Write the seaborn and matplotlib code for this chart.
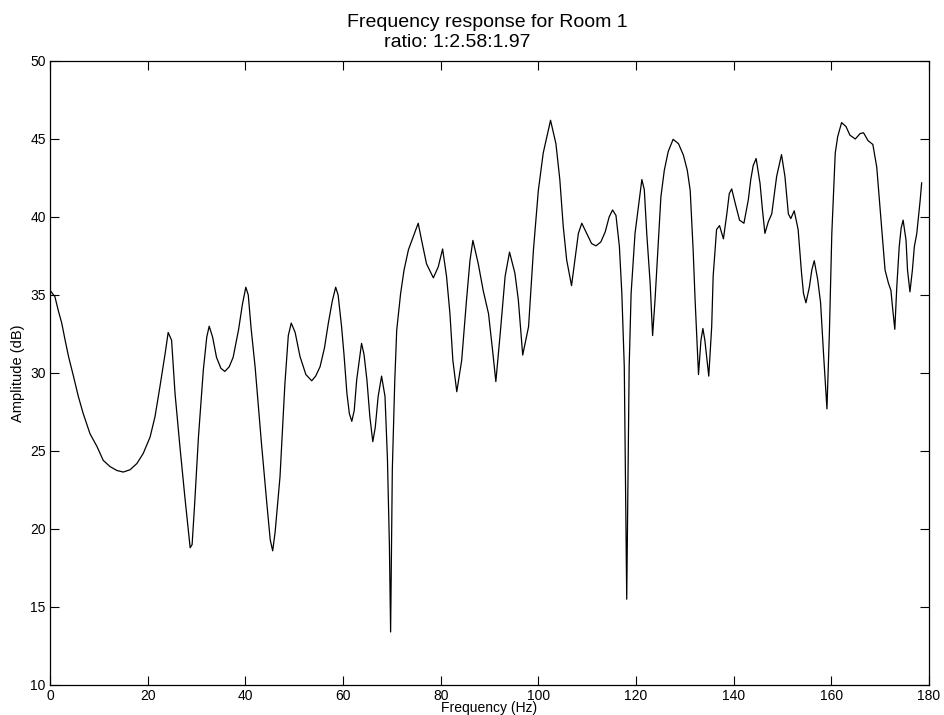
"""
Frequency response of Room 1, redrawn from a MATLAB-style line plot.
"""
import matplotlib

matplotlib.use("Agg")
import matplotlib.pyplot as plt
import pandas as pd
import seaborn as sns

# values
freq_hz = [
    0.0, 1.0, 1.7, 2.4, 3.1, 3.8, 4.8, 5.8, 6.8, 8.2, 9.6, 10.9, 12.3, 13.7,
    15.0, 16.4, 17.8, 19.1, 20.5, 21.5, 22.5, 23.6, 24.2, 24.9, 25.6, 26.6,
    27.6, 28.3, 28.7, 29.1, 29.6, 30.4, 31.4, 32.1, 32.6, 33.3, 34.1, 35.0,
    35.8, 36.7, 37.5, 38.6, 39.4, 40.1, 40.6, 41.2, 42.0, 43.3, 44.4, 45.1,
    45.6, 46.1, 47.1, 48.1, 48.8, 49.4, 50.2, 51.2, 52.4, 53.6, 54.4, 55.3,
    56.2, 57.0, 57.8, 58.5, 59.0, 59.7, 60.2, 60.8, 61.3, 61.8, 62.3, 62.8,
    63.8, 64.3, 64.9, 65.5, 66.1, 66.6, 67.2, 67.9, 68.6, 69.1, 69.5, 69.75,
    70.1, 70.6, 71.0, 71.8, 72.5, 73.4, 74.4, 75.4, 76.1, 77.1, 78.5, 79.5,
    80.4, 81.2, 81.9, 82.5, 83.3, 84.3, 85.3, 86.0, 86.6, 87.7, 88.7, 89.8,
    90.7, 91.3, 92.2, 93.2, 94.1, 95.2, 95.9, 96.8, 98.0, 99.0, 100.0, 101.0,
    102.5, 103.6, 104.4, 105.1, 105.8, 106.8, 107.5, 108.2, 108.9, 109.9,
    110.9, 111.8, 112.8, 113.7, 114.5, 115.2, 115.9, 116.6, 117.1, 117.6,
    118.1, 118.6, 119.0, 119.5, 119.8, 120.5, 121.2, 121.7, 122.2, 122.9,
    123.4, 123.9, 124.6, 125.1, 125.8, 126.6, 127.6, 128.7, 129.7, 130.5,
    131.1, 131.7, 132.1, 132.8, 133.3, 133.7, 134.1, 134.9, 135.5, 135.8,
    136.5, 137.1, 137.9, 138.6, 139.1, 139.6, 140.3, 141.2, 142.1, 143.0,
    143.5, 144.0, 144.6, 145.4, 145.9, 146.4, 147.1, 147.8, 148.8, 149.8,
    150.5, 151.2, 151.7, 152.4, 153.2, 153.9, 154.3, 154.8, 155.5, 156.0,
    156.5, 157.2, 157.8, 158.4, 159.1, 159.6, 160.1, 160.8, 161.3, 162.1,
    163.0, 163.8, 164.9, 165.9, 166.6, 167.5, 168.5, 169.3, 170.0, 170.6,
    171.0, 171.7, 172.2, 172.6, 173.0, 173.4, 173.9, 174.3, 174.7, 175.3,
    175.6, 176.1, 176.6, 177.0, 177.5, 177.9, 178.2, 178.5,
]
amplitude_db = [
    35.3, 34.9, 34.0, 33.2, 32.1, 31.05, 29.8, 28.5, 27.4, 26.1, 25.3, 24.4,
    24.0, 23.75, 23.65, 23.8, 24.2, 24.85, 25.9, 27.2, 29.1, 31.3, 32.6, 32.1,
    28.7, 25.3, 22.1, 20.0, 18.8, 19.0, 21.5, 25.9, 30.2, 32.3, 33.0, 32.3,
    31.0, 30.3, 30.1, 30.4, 31.0, 32.75, 34.4, 35.5, 35.0, 32.8, 30.4, 25.5,
    21.65, 19.3, 18.6, 19.8, 23.35, 29.3, 32.4, 33.2, 32.6, 31.05, 29.9, 29.5,
    29.8, 30.4, 31.6, 33.2, 34.6, 35.5, 35.0, 33.0, 31.2, 28.7, 27.4, 26.9,
    27.6, 29.55, 31.9, 31.2, 29.55, 27.2, 25.6, 26.5, 28.5, 29.8, 28.5, 24.5,
    19.0, 13.4, 23.8, 29.5, 32.75, 35.1, 36.6, 37.9, 38.75, 39.6, 38.5, 37.0,
    36.1, 36.8, 37.95, 36.2, 33.8, 30.8, 28.8, 30.8, 34.7, 37.2, 38.5, 37.0,
    35.3, 33.8, 31.25, 29.45, 32.55, 36.2, 37.75, 36.4, 34.7, 31.15, 32.97,
    37.9, 41.7, 44.1, 46.2, 44.7, 42.4, 39.4, 37.25, 35.6, 37.25, 38.95, 39.6,
    38.95, 38.3, 38.15, 38.4, 39.05, 40.0, 40.45, 40.1, 38.1, 35.1, 30.4,
    15.5, 30.4, 35.1, 37.45, 38.95, 40.65, 42.4, 41.75, 38.95, 35.75, 32.4,
    34.7, 38.5, 41.3, 43.0, 44.2, 44.98, 44.7, 43.97, 43.0, 41.7, 37.9, 34.7,
    29.9, 32.1, 32.85, 32.1, 29.8, 32.97, 36.2, 39.2, 39.45, 38.6, 40.2, 41.5,
    41.8, 40.9, 39.8, 39.6, 41.1, 42.4, 43.3, 43.75, 42.15, 40.45, 38.95,
    39.7, 40.2, 42.6, 44.0, 42.6, 40.2, 39.9, 40.4, 39.2, 36.4, 35.1, 34.5,
    35.5, 36.6, 37.2, 36.0, 34.5, 31.25, 27.7, 32.55, 38.95, 44.1, 45.15,
    46.05, 45.8, 45.25, 45.0, 45.35, 45.4, 44.9, 44.65, 43.2, 40.45, 38.1,
    36.6, 35.75, 35.3, 34.0, 32.8, 35.5, 38.1, 39.3, 39.8, 38.5, 36.6, 35.2,
    36.6, 38.1, 38.95, 40.2, 41.1, 42.2,
]
x_ticks = list(range(0, 181, 20))
y_ticks = list(range(10, 51, 5))
title_line1 = "Frequency response for Room 1"
title_line2 = "ratio: 1:2.58:1.97"

sns.set_style("ticks")
plt.rcParams["font.family"] = ["Liberation Sans", "DejaVu Sans"]
plt.rcParams["text.color"] = "black"
plt.rcParams["axes.labelcolor"] = "black"

df = pd.DataFrame({"freq": freq_hz, "amp": amplitude_db})

fig = plt.figure(figsize=(9.45, 7.15), dpi=100)
ax = fig.add_axes([50 / 945, 30 / 715, 879 / 945, 624 / 715])

sns.lineplot(
    data=df, x="freq", y="amp", ax=ax, color="black", linewidth=0.9,
    sort=False, estimator=None,
)

ax.set_xlim(0, 180)
ax.set_ylim(10, 50)
ax.set_xticks(x_ticks)
ax.set_yticks(y_ticks)
ax.tick_params(
    direction="in", length=6.5, width=0.8, labelsize=10, colors="black",
    top=True, right=True, pad=3,
)
for side in ax.spines.values():
    side.set_visible(True)
    side.set_linewidth(0.9)
    side.set_color("black")

# MATLAB puts the x label tight under the tick labels
ax.set_xlabel("Frequency (Hz)", fontsize=10)
ax.xaxis.set_label_coords(0.5, -0.026)
ax.set_ylabel("Amplitude (dB)", fontsize=10.5)
ax.yaxis.set_label_coords(-0.028, 0.5)

fig.text(487.5 / 945, 1 - 27 / 715, title_line1, ha="center", va="baseline",
         fontsize=14)
fig.text(457 / 945, 1 - 47 / 715, title_line2, ha="center", va="baseline",
         fontsize=14)

fig.savefig("out.png", dpi=100)
